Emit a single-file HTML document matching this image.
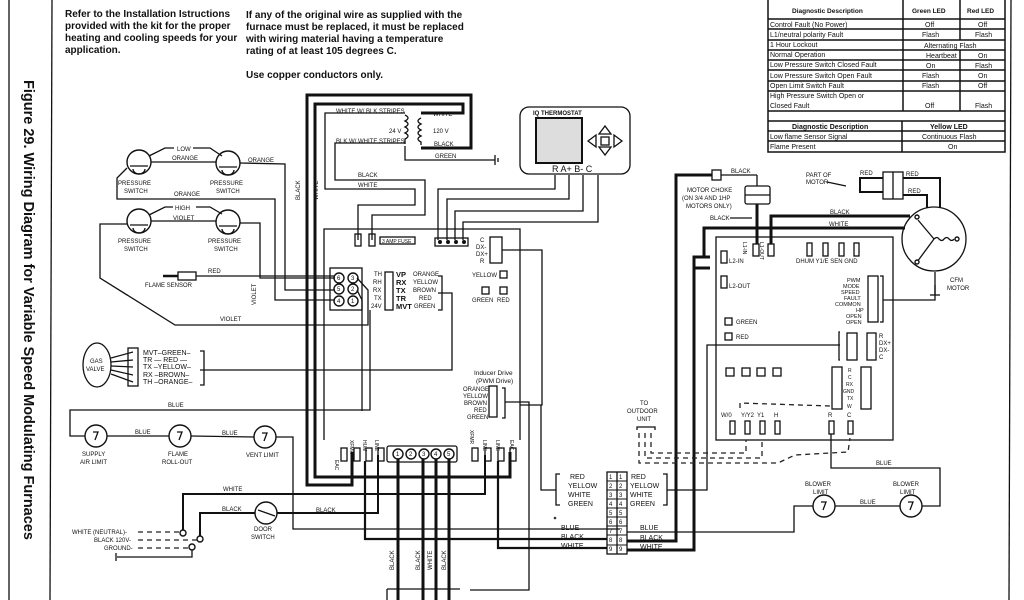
<!DOCTYPE html>
<html><head><meta charset="utf-8"><style>
html,body{margin:0;padding:0;background:#fff;}
svg{display:block;}
text{font-family:"Liberation Sans",sans-serif;fill:#111;}
.t{font-size:7px;font-weight:bold;}
.s{font-size:6px;}
.h{font-size:10px;font-weight:bold;}
.w{stroke:#111;stroke-width:1.3;fill:none;}
.k{stroke:#111;stroke-width:3;fill:none;}
.d{stroke:#222;stroke-width:1.3;fill:none;stroke-dasharray:5 4;}
.c{stroke:#111;stroke-width:1.4;fill:#fff;}
</style></head><body>
<svg width="1024" height="600" viewBox="0 0 1024 600" xmlns="http://www.w3.org/2000/svg">
<rect width="1024" height="600" fill="#fff"/>
<line x1="9" y1="0" x2="9" y2="600" class="w"/>
<line x1="52" y1="0" x2="50" y2="600" class="w"/>
<line x1="1011" y1="0" x2="1009" y2="600" class="w"/>
<text transform="translate(24,80) rotate(90)" style="font-size:14.5px;font-weight:bold">Figure 29. Wiring Diagram for Variable Speed Modulating Furnaces</text>
<text class="h" x="65" y="17">Refer to the Installation Istructions</text>
<text class="h" x="65" y="29">provided with the kit for the proper</text>
<text class="h" x="65" y="41">heating and cooling speeds for your</text>
<text class="h" x="65" y="53">application.</text>
<text class="h" x="246" y="18">If any of the original wire as supplied with the</text>
<text class="h" x="246" y="30">furnace must be replaced, it must be replaced</text>
<text class="h" x="246" y="42">with wiring material having a temperature</text>
<text class="h" x="246" y="54">rating of at least 105 degrees C.</text>
<text class="h" x="246" y="78">Use copper conductors only.</text>
<g class="w" style="stroke-width:1.5">
<rect x="768" y="-2" width="237" height="154"/>
<line x1="768" y1="19" x2="1005" y2="19"/><line x1="768" y1="29" x2="1005" y2="29"/>
<line x1="768" y1="40" x2="1005" y2="40"/><line x1="768" y1="50" x2="1005" y2="50"/>
<line x1="768" y1="60" x2="1005" y2="60"/><line x1="768" y1="70" x2="1005" y2="70"/>
<line x1="768" y1="81" x2="1005" y2="81"/><line x1="768" y1="91" x2="1005" y2="91"/>
<line x1="768" y1="111" x2="1005" y2="111"/><line x1="768" y1="121" x2="1005" y2="121"/>
<line x1="768" y1="131" x2="1005" y2="131"/><line x1="768" y1="141" x2="1005" y2="141"/>
<line x1="903" y1="-2" x2="903" y2="111"/><line x1="960" y1="-2" x2="960" y2="40"/><line x1="960" y1="50" x2="960" y2="111"/>
<line x1="902" y1="121" x2="902" y2="152"/>
</g>
<g class="s" style="font-size:7px">
<text x="792" y="13" style="font-size:6.5px;font-weight:bold">Diagnostic Description</text><text x="912" y="13" style="font-size:6.5px;font-weight:bold">Green LED</text><text x="967" y="13" style="font-size:6.5px;font-weight:bold">Red LED</text>
<text x="770" y="27">Control Fault (No Power)</text><text x="925" y="27">Off</text><text x="978" y="27">Off</text>
<text x="770" y="37">L1/neutral polarity Fault</text><text x="922" y="37">Flash</text><text x="975" y="37">Flash</text>
<text x="770" y="47">1 Hour Lockout</text><text x="924" y="48">Alternating Flash</text>
<text x="770" y="57">Normal Operation</text><text x="926" y="58">Heartbeat</text><text x="978" y="58">On</text>
<text x="770" y="67">Low Pressure Switch Closed Fault</text><text x="926" y="68">On</text><text x="975" y="68">Flash</text>
<text x="770" y="78">Low Pressure Switch Open Fault</text><text x="922" y="78">Flash</text><text x="978" y="78">On</text>
<text x="770" y="88">Open Limit Switch Fault</text><text x="922" y="88">Flash</text><text x="978" y="88">Off</text>
<text x="770" y="98">High Pressure Switch Open or</text><text x="770" y="108">Closed Fault</text><text x="925" y="108">Off</text><text x="975" y="108">Flash</text>
<text x="792" y="129" class="t">Diagnostic Description</text><text x="930" y="129" class="t">Yellow LED</text>
<text x="770" y="139">Low flame Sensor Signal</text><text x="922" y="139">Continuous Flash</text>
<text x="770" y="149">Flame Present</text><text x="948" y="149">On</text>
</g>
<rect x="520" y="107" width="110" height="67" rx="9" class="w"/>
<rect x="536" y="118" width="46" height="45" fill="#ddd" stroke="#111" stroke-width="2"/>
<text x="533" y="115" class="s" style="font-weight:bold">IQ THERMOSTAT</text>
<g class="w"><polygon points="605,126 599,134 611,134"/><polygon points="605,155 599,147 611,147"/><polygon points="588,141 596,135 596,147"/><polygon points="622,141 614,135 614,147"/><rect x="601" y="137" width="8" height="8"/></g>
<text x="552" y="172" class="h" style="font-weight:normal;font-size:9px">R  A+  B-  C</text>
<polyline class="w" points="555,175 555,189 438,189 438,240"/>
<polyline class="w" points="569,175 569,199 447,199 447,240"/>
<polyline class="w" points="583,175 583,211 455,211 455,240"/>
<polyline class="w" points="598,175 598,222 463,222 463,240"/>
<polyline class="k" points="421,148 471,148 471,95 307,95 307,485 352,485 352,452"/>
<polyline class="k" points="421,113 463,113 463,104 315,104 315,477 510,477 510,452"/>
<path class="w" d="M421,118 q-6,3 0,6 q-6,3 0,6 q-6,3 0,6 q-6,3 0,6 l0,3"/>
<path class="w" d="M405,115 q6,3 0,6 q6,3 0,6 q6,3 0,6 q6,3 0,6 l0,5"/>
<text x="433" y="133" class="s">120 V</text><text x="389" y="133" class="s">24 V</text>
<text x="433" y="116" class="s">WHITE</text><text x="434" y="146" class="s">BLACK</text>
<polyline class="w" points="405,113 325,113 325,189 415,189 415,205 358,205 358,240"/>
<polyline class="w" points="405,143 335,143 335,180 425,180 425,215 372,215 372,240"/>
<polyline class="w" points="405,146 405,160 495,160"/>
<line x1="495" y1="155" x2="495" y2="165" class="w"/><line x1="498" y1="158" x2="498" y2="162" class="w"/>
<text x="336" y="113" class="s">WHITE W/ BLK STRIPES</text><text x="336" y="143" class="s">BLK W/ WHITE STRIPES</text>
<text x="435" y="158" class="s">GREEN</text><text x="358" y="177" class="s">BLACK</text><text x="358" y="187" class="s">WHITE</text>
<text transform="translate(300,200) rotate(-90)" class="s">BLACK</text><text transform="translate(318,200) rotate(-90)" class="s">WHITE</text>
<polyline class="w" points="324,440 324,229 520,229 520,440"/>
<rect x="355" y="234" width="6" height="12" class="w"/><rect x="369" y="234" width="6" height="12" class="w"/>
<rect x="380" y="237" width="35" height="7" class="w"/><text x="382" y="243" style="font-size:5px">3 AMP FUSE</text>
<rect x="435" y="238" width="33" height="8" class="w"/>
<g fill="#111"><circle cx="440" cy="242" r="2"/><circle cx="448" cy="242" r="2"/><circle cx="456" cy="242" r="2"/><circle cx="464" cy="242" r="2"/></g>
<rect x="490" y="237" width="12" height="26" class="w"/>
<g class="s"><text x="480" y="242">C</text><text x="476" y="249">DX-</text><text x="476" y="256">DX+</text><text x="480" y="263">R</text></g>
<polyline class="w" points="502,250 542,250 542,405 520,405"/>
<text x="472" y="277" class="s">YELLOW</text><rect x="500" y="271" width="7" height="7" class="w"/>
<rect x="482" y="287" width="7" height="7" class="w"/><rect x="500" y="287" width="7" height="7" class="w"/>
<text x="472" y="302" class="s">GREEN</text><text x="497" y="302" class="s">RED</text>
<rect x="330" y="268" width="32" height="42" class="w"/>
<g class="c"><circle cx="339" cy="278" r="5"/><circle cx="353" cy="278" r="5"/><circle cx="339" cy="289" r="5"/><circle cx="353" cy="289" r="5"/><circle cx="339" cy="301" r="5"/><circle cx="353" cy="301" r="5"/></g>
<g style="font-size:6px"><text x="337" y="280">6</text><text x="351" y="280">3</text><text x="337" y="291">5</text><text x="351" y="291">2</text><text x="337" y="303">4</text><text x="351" y="303">1</text></g>
<rect x="385" y="272" width="8" height="38" class="w"/>
<g class="s"><text x="374" y="276">TH</text><text x="373" y="284">RH</text><text x="373" y="292">RX</text><text x="374" y="300">TX</text><text x="371" y="308">24V</text></g>
<g style="font-size:7.5px;font-weight:bold"><text x="396" y="277">VP</text><text x="396" y="285">RX</text><text x="396" y="293">TX</text><text x="396" y="301">TR</text><text x="396" y="309">MVT</text></g>
<g class="s"><text x="413" y="276">ORANGE</text><text x="413" y="284">YELLOW</text><text x="413" y="292">BROWN</text><text x="419" y="300">RED</text><text x="414" y="308">GREEN</text></g>
<polyline class="w" points="438,276 442,276 442,310 438,310"/>
<polyline class="w" points="438,293 452,293 452,370 200,370"/>
<polyline class="w" points="357,278 368,290 368,325 175,325 100,278 100,224 127,224"/>
<polyline class="w" points="357,290 362,300 362,411"/>
<g class="c"><circle cx="139" cy="162" r="12"/><circle cx="228" cy="163" r="12"/><circle cx="139" cy="221" r="12"/><circle cx="228" cy="222" r="12"/></g>
<g class="w"><path d="M130,166 h18 M133,169 a6,5 0 0 0 12,0"/><path d="M219,167 h18 M222,170 a6,5 0 0 0 12,0"/><path d="M130,225 h18 M133,228 a6,5 0 0 0 12,0"/><path d="M219,226 h18 M222,229 a6,5 0 0 0 12,0"/></g>
<polyline class="w" points="149,156 165,148 174,148"/><polyline class="w" points="193,148 210,148 222,156"/>
<text x="177" y="151" class="s">LOW</text>
<line x1="151" y1="162" x2="216" y2="162" class="w"/><text x="172" y="160" class="s">ORANGE</text>
<polyline class="w" points="240,163 285,164 285,290 335,290"/><text x="248" y="162" class="s">ORANGE</text>
<polyline class="w" points="127,168 117,178 117,199 275,199 275,300 335,300"/>
<text x="174" y="196" class="s">ORANGE</text>
<text x="118" y="185" class="s">PRESSURE</text><text x="124" y="193" class="s">SWITCH</text>
<text x="210" y="185" class="s">PRESSURE</text><text x="216" y="193" class="s">SWITCH</text>
<polyline class="w" points="149,215 165,207 173,207"/><polyline class="w" points="196,207 210,207 222,214"/>
<text x="175" y="210" class="s">HIGH</text>
<line x1="151" y1="221" x2="216" y2="221" class="w"/><text x="173" y="220" class="s">VIOLET</text>
<polyline class="w" points="240,223 260,223 260,278 335,278"/>
<text x="118" y="243" class="s">PRESSURE</text><text x="124" y="251" class="s">SWITCH</text>
<text x="208" y="243" class="s">PRESSURE</text><text x="214" y="251" class="s">SWITCH</text>
<text transform="translate(256,305) rotate(-90)" class="s">VIOLET</text>
<text x="220" y="321" class="s">VIOLET</text>
<rect x="178" y="272" width="18" height="8" class="w"/><line x1="163" y1="276" x2="178" y2="276" class="k" style="stroke-width:2.5"/>
<line x1="196" y1="276" x2="335" y2="276" class="w"/><text x="208" y="273" class="s">RED</text>
<text x="145" y="287" class="s">FLAME SENSOR</text>
<ellipse cx="97" cy="365" rx="14" ry="22" class="w"/>
<text x="90" y="363" class="s">GAS</text><text x="86" y="371" class="s">VALVE</text>
<rect x="128" y="348" width="10" height="38" class="w"/>
<g class="w"><line x1="111" y1="358" x2="133" y2="352"/><line x1="111" y1="362" x2="133" y2="360"/><line x1="111" y1="366" x2="133" y2="367"/><line x1="111" y1="370" x2="133" y2="375"/><line x1="111" y1="374" x2="133" y2="382"/></g>
<g style="font-size:7px"><text x="143" y="355">MVT–GREEN–</text><text x="143" y="362">TR — RED —</text><text x="143" y="369">TX –YELLOW–</text><text x="143" y="377">RX –BROWN–</text><text x="143" y="384">TH –ORANGE–</text></g>
<polyline class="w" points="200,351 204,351 204,385 200,385"/>
<polyline class="w" points="370,310 370,410 70,410 70,436 85,436"/>
<text x="168" y="407" class="s">BLUE</text>
<g class="c"><circle cx="96" cy="436" r="11"/><circle cx="180" cy="436" r="11"/><circle cx="265" cy="437" r="11"/><circle cx="266" cy="513" r="11"/></g>
<g class="w"><path d="M93,432 h5 l-3,8 M177,432 h5 l-3,8 M262,433 h5 l-3,8"/><line x1="258" y1="510" x2="275" y2="516"/></g>
<line x1="107" y1="436" x2="169" y2="436" class="w"/><line x1="191" y1="436" x2="254" y2="437" class="w"/>
<polyline class="w" points="276,437 293,437 293,529 620,529"/>
<text x="135" y="434" class="s">BLUE</text><text x="222" y="435" class="s">BLUE</text>
<text x="82" y="456" class="s">SUPPLY</text><text x="80" y="464" class="s">AIR LIMIT</text>
<text x="168" y="456" class="s">FLAME</text><text x="162" y="464" class="s">ROLL-OUT</text>
<text x="246" y="457" class="s">VENT LIMIT</text>
<polyline class="w" points="183,532 183,494 485,494 485,455" style="stroke-width:2"/>
<text x="223" y="491" class="s">WHITE</text>
<polyline class="w" points="200,538 200,513 255,513" style="stroke-width:2"/>
<polyline class="w" points="277,513 378,513 378,455" style="stroke-width:2"/>
<text x="222" y="511" class="s">BLACK</text><text x="316" y="512" class="s">BLACK</text>
<text x="254" y="531" class="s">DOOR</text><text x="251" y="539" class="s">SWITCH</text>
<circle cx="183" cy="533" r="3" class="c"/><circle cx="200" cy="539" r="3" class="c"/><circle cx="192" cy="547" r="3" class="c"/>
<line x1="138" y1="532" x2="180" y2="532" class="d"/><line x1="138" y1="540" x2="197" y2="540" class="d"/><line x1="138" y1="548" x2="189" y2="548" class="d"/>
<polyline class="w" points="192,550 192,557 117,557"/><line x1="116" y1="553" x2="116" y2="561" class="w"/>
<text x="72" y="534" class="s">WHITE (NEUTRAL)-</text><text x="94" y="542" class="s">BLACK 120V-</text><text x="104" y="550" class="s">GROUND-</text>
<rect x="341" y="448" width="6" height="13" class="w"/><rect x="354" y="448" width="6" height="13" class="w"/><rect x="366" y="448" width="6" height="13" class="w"/><rect x="378" y="448" width="6" height="13" class="w"/>
<rect x="387" y="446" width="70" height="16" rx="2" class="w"/>
<g class="c"><circle cx="398" cy="454" r="5"/><circle cx="411" cy="454" r="5"/><circle cx="424" cy="454" r="5"/><circle cx="436" cy="454" r="5"/><circle cx="449" cy="454" r="5"/></g>
<g style="font-size:6px"><text x="396" y="456">1</text><text x="409" y="456">2</text><text x="422" y="456">3</text><text x="434" y="456">4</text><text x="447" y="456">5</text></g>
<rect x="472" y="448" width="6" height="13" class="w"/><rect x="485" y="448" width="6" height="13" class="w"/><rect x="498" y="448" width="6" height="13" class="w"/><rect x="510" y="448" width="6" height="13" class="w"/>
<g style="font-size:5px"><text transform="translate(335,460) rotate(90)">EAC</text><text transform="translate(350,440) rotate(90)">XFMR</text><text transform="translate(363,440) rotate(90)">HUM</text><text transform="translate(375,440) rotate(90)">LINE</text><text transform="translate(470,430) rotate(90)">XFMR</text><text transform="translate(483,440) rotate(90)">LINE</text><text transform="translate(496,440) rotate(90)">LINE</text><text transform="translate(510,440) rotate(90)">EAC</text></g>
<line x1="398" y1="459" x2="398" y2="600" class="k"/><line x1="423" y1="459" x2="423" y2="600" class="k"/><line x1="436" y1="459" x2="436" y2="600" class="k"/><line x1="449" y1="459" x2="449" y2="600" class="k"/>
<line x1="387" y1="589" x2="460" y2="589" class="w"/><line x1="387" y1="589" x2="387" y2="600" class="w"/>
<g class="s"><text transform="translate(394,570) rotate(-90)">BLACK</text><text transform="translate(420,570) rotate(-90)">BLACK</text><text transform="translate(432,570) rotate(-90)">WHITE</text><text transform="translate(446,570) rotate(-90)">BLACK</text></g>
<polyline class="w" points="365,461 365,539 607,539" style="stroke-width:2.2"/>
<polyline class="w" points="498,461 498,548 607,548" style="stroke-width:2.2"/>
<text x="474" y="375" class="s" style="font-size:6.5px">Inducer Drive</text><text x="476" y="383" class="s" style="font-size:6.5px">(PWM Drive)</text>
<rect x="489" y="386" width="8" height="31" class="w"/>
<g class="s"><text x="463" y="391">ORANGE</text><text x="463" y="398">YELLOW</text><text x="464" y="405">BROWN</text><text x="474" y="412">RED</text><text x="467" y="419">GREEN</text></g>
<polyline class="w" points="502,388 505,388 505,418 502,418"/>
<polyline class="w" points="505,402 529,402 529,590 470,590"/>
<rect x="607" y="472" width="20" height="82" class="w"/><line x1="617" y1="472" x2="617" y2="554" class="w"/>
<g class="w" style="stroke-width:1"><line x1="607" y1="481" x2="627" y2="481"/><line x1="607" y1="490" x2="627" y2="490"/><line x1="607" y1="499" x2="627" y2="499"/><line x1="607" y1="508" x2="627" y2="508"/><line x1="607" y1="517" x2="627" y2="517"/><line x1="607" y1="526" x2="627" y2="526"/><line x1="607" y1="535" x2="627" y2="535"/><line x1="607" y1="545" x2="627" y2="545"/></g>
<g style="font-size:6px"><text x="609" y="479">1</text><text x="619" y="479">1</text><text x="609" y="488">2</text><text x="619" y="488">2</text><text x="609" y="497">3</text><text x="619" y="497">3</text><text x="609" y="506">4</text><text x="619" y="506">4</text><text x="609" y="515">5</text><text x="619" y="515">5</text><text x="609" y="524">6</text><text x="619" y="524">6</text><text x="609" y="533">7</text><text x="619" y="533">7</text><text x="609" y="542">8</text><text x="619" y="542">8</text><text x="609" y="551">9</text><text x="619" y="551">9</text></g>
<g style="font-size:7px"><text x="570" y="479">RED</text><text x="568" y="488">YELLOW</text><text x="568" y="497">WHITE</text><text x="568" y="506">GREEN</text>
<text x="631" y="479">RED</text><text x="630" y="488">YELLOW</text><text x="630" y="497">WHITE</text><text x="630" y="506">GREEN</text>
<text x="561" y="530">BLUE</text><text x="561" y="539">BLACK</text><text x="561" y="548">WHITE</text>
<text x="640" y="530">BLUE</text><text x="640" y="540">BLACK</text><text x="640" y="549">WHITE</text></g>
<polyline class="w" points="560,474 556,474 556,505 560,505"/><polyline class="w" points="663,474 667,474 667,505 663,505"/>
<polyline class="w" points="556,490 541,490 541,405"/>
<polyline class="w" points="667,490 707,490 707,345 840,345"/>
<polyline class="w" points="627,532 794,532 794,506 813,506"/>
<polyline class="k" points="627,541 676,541 676,175 712,175"/>
<polyline class="k" points="627,550 694,550 694,257 710,257"/>
<polyline class="k" points="694,268 710,268"/>
<polyline class="k" points="704,257 704,228 905,228"/>
<rect x="712" y="170" width="9" height="10" class="w"/><text x="731" y="173" class="s">BLACK</text>
<rect x="745" y="186" width="25" height="18" rx="2" class="w"/><line x1="745" y1="195" x2="770" y2="195" class="w"/>
<line x1="721" y1="175" x2="757" y2="175" class="w"/><line x1="757" y1="175" x2="757" y2="186" class="w"/>
<line x1="757" y1="204" x2="757" y2="244" class="k"/>
<text x="687" y="192" class="s">MOTOR CHOKE</text><text x="682" y="200" class="s">(ON 3/4 AND 1HP</text><text x="686" y="208" class="s">MOTORS ONLY)</text>
<text x="710" y="220" class="s">BLACK</text><line x1="730" y1="218" x2="752" y2="218" class="w"/>
<rect x="716" y="237" width="177" height="203" class="w"/>
<rect x="753" y="244" width="6" height="12" class="w"/><rect x="768" y="244" width="6" height="12" class="w"/>
<polyline class="k" points="771,244 771,216 910,216"/>
<text x="830" y="214" class="s">BLACK</text><text x="829" y="226" class="s">WHITE</text>
<rect x="721" y="251" width="6" height="12" class="w"/><rect x="721" y="276" width="6" height="12" class="w"/>
<text x="729" y="263" class="s">L2-IN</text><text x="729" y="288" class="s">L2-OUT</text>
<g style="font-size:5px"><text transform="translate(743,242) rotate(90)">L1-IN</text><text transform="translate(760,242) rotate(90)">L1-OUT</text></g>
<rect x="807" y="243" width="5" height="13" class="w"/><rect x="823" y="243" width="5" height="13" class="w"/><rect x="839" y="243" width="5" height="13" class="w"/><rect x="854" y="243" width="5" height="13" class="w"/>
<text x="796" y="263" class="s">DHUM Y1/E SEN GND</text>
<rect x="868" y="276" width="10" height="46" class="w"/><polyline class="w" points="880,276 883,276 883,322 880,322"/>
<g style="font-size:5.5px"><text x="847" y="282">PWM</text><text x="843" y="288">MODE</text><text x="841" y="294">SPEED</text><text x="844" y="300">FAULT</text><text x="835" y="306">COMMON</text><text x="856" y="312">HP</text><text x="846" y="318">OPEN</text><text x="846" y="324">OPEN</text></g>
<polyline class="w" points="883,300 935,300 935,272"/><line x1="935" y1="285" x2="935" y2="295" class="w"/><line x1="930" y1="295" x2="940" y2="295" class="w"/>
<circle cx="934" cy="239" r="32" class="w"/>
<g class="w"><line x1="934" y1="239" x2="918" y2="220"/><line x1="934" y1="239" x2="917" y2="262"/><path d="M934,239 q3,-3 5,0 q3,3 5,0 q3,-3 5,0 q3,3 5,0"/></g>
<g class="c"><circle cx="917" cy="217" r="2"/><circle cx="917" cy="262" r="2"/><circle cx="957" cy="239" r="2"/></g>
<text x="950" y="282" class="s">CFM</text><text x="947" y="290" class="s">MOTOR</text>
<rect x="883" y="172" width="20" height="27" class="w"/><line x1="893" y1="172" x2="893" y2="199" class="w"/>
<polyline class="k" points="883,178 860,178 860,192 883,192" style="stroke-width:2"/>
<polyline class="k" points="903,178 940,178 940,208" style="stroke-width:2"/>
<polyline class="k" points="903,195 927,195 927,208" style="stroke-width:2"/>
<text x="860" y="175" class="s">RED</text><text x="906" y="176" class="s">RED</text><text x="908" y="193" class="s">RED</text>
<text x="806" y="177" class="s">PART OF</text><text x="806" y="184" class="s">MOTOR</text><line x1="827" y1="182" x2="846" y2="186" class="w"/>
<rect x="725" y="318" width="7" height="7" class="w"/><text x="736" y="324" class="s">GREEN</text>
<rect x="725" y="333" width="7" height="7" class="w"/><text x="736" y="339" class="s">RED</text>
<polyline class="w" points="840,332 839,332 839,360 840,360"/><rect x="847" y="333" width="10" height="27" class="w"/>
<rect x="867" y="333" width="9" height="27" class="w"/><g class="s"><text x="879" y="338">R</text><text x="879" y="345">DX+</text><text x="879" y="352">DX-</text><text x="879" y="359">C</text></g>
<rect x="726" y="368" width="8" height="8" class="w"/><rect x="742" y="368" width="8" height="8" class="w"/><rect x="757" y="368" width="8" height="8" class="w"/><rect x="773" y="368" width="8" height="8" class="w"/>
<rect x="832" y="367" width="10" height="42" class="w"/><rect x="861" y="367" width="10" height="42" class="w"/>
<g style="font-size:5px"><text x="848" y="372">R</text><text x="848" y="379">C</text><text x="846" y="386">RX</text><text x="843" y="393">GND</text><text x="847" y="400">TX</text><text x="847" y="408">W</text></g>
<polyline class="d" points="740,408 740,403 830,406"/>
<g class="s"><text x="721" y="417">W/0</text><text x="741" y="417">Y/Y2</text><text x="757" y="417">Y1</text><text x="774" y="417">H</text><text x="828" y="417">R</text><text x="847" y="417">C</text></g>
<rect x="730" y="421" width="5" height="13" class="w"/><rect x="745" y="421" width="5" height="13" class="w"/><rect x="760" y="421" width="5" height="13" class="w"/><rect x="775" y="421" width="5" height="13" class="w"/><rect x="829" y="421" width="5" height="13" class="w"/><rect x="848" y="421" width="5" height="13" class="w"/>
<polyline class="w" points="831,434 831,468 940,468 940,506 922,506"/>
<text x="876" y="465" class="s">BLUE</text>
<g class="c"><circle cx="824" cy="506" r="11"/><circle cx="911" cy="506" r="11"/></g>
<g class="w"><path d="M821,502 h5 l-3,8 M908,502 h5 l-3,8"/></g>
<line x1="835" y1="506" x2="900" y2="506" class="w"/><text x="860" y="504" class="s">BLUE</text>
<text x="805" y="486" class="s">BLOWER</text><text x="813" y="494" class="s">LIMIT</text>
<text x="893" y="486" class="s">BLOWER</text><text x="900" y="494" class="s">LIMIT</text>
<text x="640" y="405" class="s">TO</text><text x="627" y="413" class="s">OUTDOOR</text><text x="637" y="421" class="s">UNIT</text>
<polyline class="w" points="637,430 637,427 655,427 655,430"/>
<polyline class="d" points="639,433 639,463 778,463 795,455 848,452 850,438"/>
<polyline class="d" points="645,433 645,458 762,458 762,440"/>
<polyline class="d" points="651,433 651,453 746,453 746,440"/>
<circle cx="555" cy="518" r="1.3" fill="#333"/>
</svg>
</body></html>
